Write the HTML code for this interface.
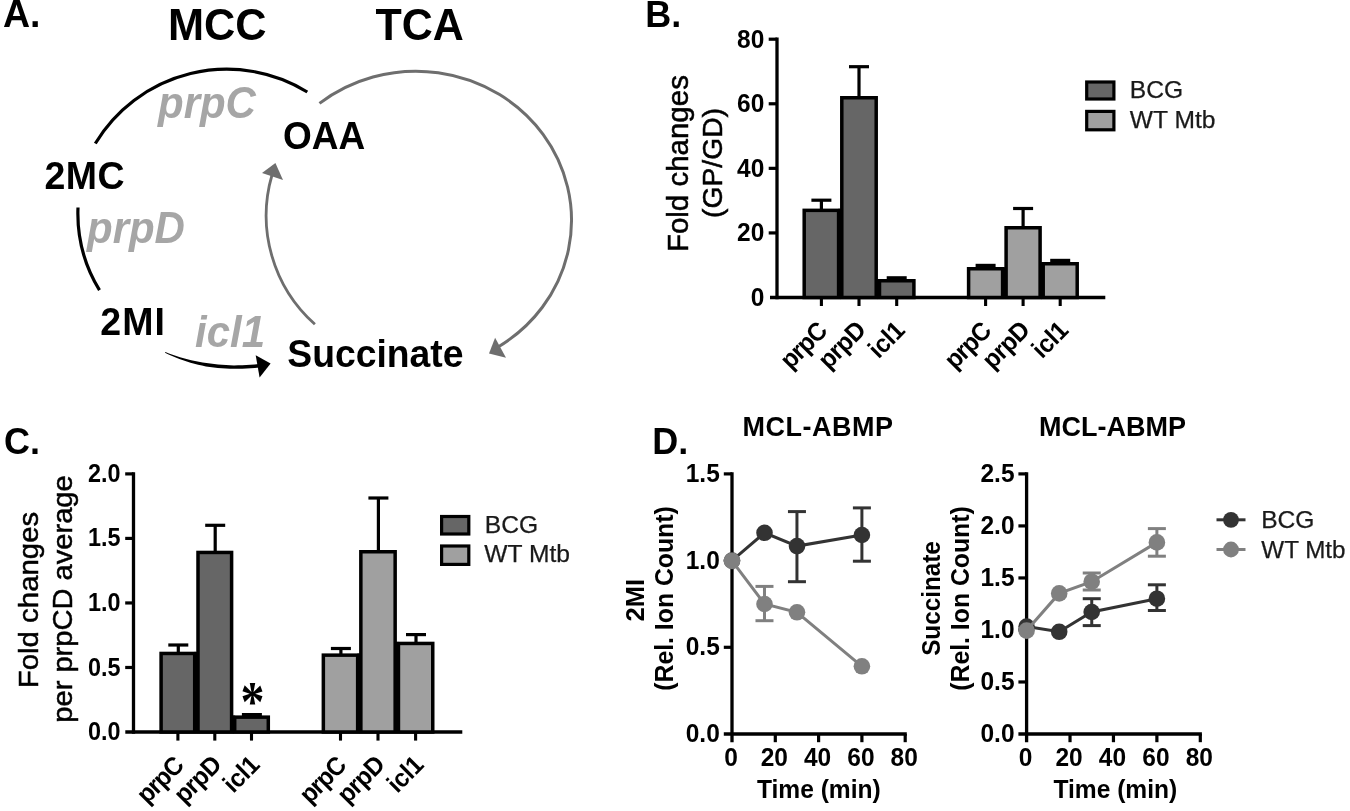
<!DOCTYPE html>
<html lang="en">
<head>
<meta charset="utf-8">
<title>MCC and TCA cycle figure</title>
<style>
html,body{margin:0;padding:0;background:#fff;}
body{width:1350px;height:811px;overflow:hidden;}
svg{display:block;}
svg text{font-family:"Liberation Sans",sans-serif;}
</style>
</head>
<body>
<svg width="1350" height="811" viewBox="0 0 1350 811">
<rect x="0" y="0" width="1350" height="811" fill="#ffffff"/>
<text transform="translate(3 27) scale(1 1.04)" font-size="37.5" font-weight="bold" text-anchor="start" fill="#000">A.</text>
<text transform="translate(168 40.1) scale(1 1.04)" font-size="43.3" font-weight="bold" text-anchor="start" fill="#000">MCC</text>
<text transform="translate(375.5 40.1) scale(1 1.04)" font-size="43" font-weight="bold" text-anchor="start" fill="#000">TCA</text>
<text transform="translate(283 148.7) scale(1 1.04)" font-size="37" font-weight="bold" text-anchor="start" fill="#000">OAA</text>
<text transform="translate(44.5 189.1) scale(1 1.04)" font-size="37.5" font-weight="bold" text-anchor="start" fill="#000" letter-spacing="0.5">2MC</text>
<text transform="translate(100.3 334.7) scale(1 1.04)" font-size="37.5" font-weight="bold" text-anchor="start" fill="#000" letter-spacing="1">2MI</text>
<text transform="translate(287.3 366.5) scale(1 1.04)" font-size="37.3" font-weight="bold" text-anchor="start" fill="#000">Succinate</text>
<text transform="translate(158 118.2) scale(1 1.04)" font-size="42" font-weight="bold" text-anchor="start" fill="#a6a6a6" font-style="italic">prpC</text>
<text transform="translate(87 242.8) scale(1 1.04)" font-size="42" font-weight="bold" text-anchor="start" fill="#a6a6a6" font-style="italic">prpD</text>
<text transform="translate(195 347.3) scale(1 1.04)" font-size="42" font-weight="bold" text-anchor="start" fill="#a6a6a6" font-style="italic">icl1</text>
<path d="M95.3 143.5 A153.5 153.5 0 0 1 307.3 92.0" fill="none" stroke="#000" stroke-width="3.2"/>
<path d="M78.0 207.5 A147.1 147.1 0 0 0 99.5 290.2" fill="none" stroke="#000" stroke-width="3.2"/>
<path d="M165.0 352.8 L168.6 354.5 L172.1 356.1 L175.7 357.5 L179.4 359.0 L183.1 360.3 L186.8 361.5 L190.5 362.7 L194.3 363.8 L198.1 364.7 L202.0 365.6 L205.9 366.4 L209.8 367.0 L213.8 367.6 L217.8 368.0 L221.8 368.3 L225.8 368.6 L229.9 368.8 L234.0 368.8 L238.1 368.8 L242.3 368.8 L246.5 368.6 L250.7 368.3 L254.9 368.0 L259.2 367.5 L258.8 364.1 L254.6 364.5 L250.4 364.8 L246.3 365.1 L242.2 365.3 L238.1 365.3 L234.0 365.4 L230.0 365.3 L226.0 365.1 L222.0 364.8 L218.1 364.5 L214.2 364.1 L210.3 363.6 L206.4 363.0 L202.6 362.4 L198.8 361.7 L195.0 361.0 L191.2 360.2 L187.4 359.3 L183.7 358.3 L180.0 357.2 L176.3 356.0 L172.6 354.8 L169.0 353.4 L165.4 352.0 Z" fill="#000"/>
<path d="M270.6 363.6 L255.7 355.2 L259.6 377.6 Z" fill="#000"/>
<path d="M319.5 103.4 A155.5 149.1 0 1 1 498.5 346.7" fill="none" stroke="#6e6e6e" stroke-width="3"/>
<path d="M489 353.6 L495.1 337.8 L506 357.8 Z" fill="#6e6e6e"/>
<path d="M314.9 324.3 A145.5 145.5 0 0 1 272.0 175.0" fill="none" stroke="#6e6e6e" stroke-width="2.8"/>
<path d="M275.4 163 L262 173 L283 180 Z" fill="#6e6e6e"/>
<text transform="translate(645.2 27) scale(1 1.04)" font-size="36" font-weight="bold" text-anchor="start" fill="#000">B.</text>
<line x1="777.00" y1="37.55" x2="777.00" y2="299.15" stroke="#000" stroke-width="3.3" stroke-linecap="butt"/>
<line x1="770.00" y1="297.50" x2="1105.30" y2="297.50" stroke="#000" stroke-width="3.5" stroke-linecap="butt"/>
<text transform="translate(764.3 305.9) scale(1 1.04)" font-size="24.5" font-weight="bold" text-anchor="end" fill="#000">0</text>
<line x1="768.70" y1="232.93" x2="777.00" y2="232.93" stroke="#000" stroke-width="3.2" stroke-linecap="butt"/>
<text transform="translate(764.3 241.3) scale(1 1.04)" font-size="24.5" font-weight="bold" text-anchor="end" fill="#000">20</text>
<line x1="768.70" y1="168.35" x2="777.00" y2="168.35" stroke="#000" stroke-width="3.2" stroke-linecap="butt"/>
<text transform="translate(764.3 176.8) scale(1 1.04)" font-size="24.5" font-weight="bold" text-anchor="end" fill="#000">40</text>
<line x1="768.70" y1="103.78" x2="777.00" y2="103.78" stroke="#000" stroke-width="3.2" stroke-linecap="butt"/>
<text transform="translate(764.3 112.2) scale(1 1.04)" font-size="24.5" font-weight="bold" text-anchor="end" fill="#000">60</text>
<line x1="768.70" y1="39.20" x2="777.00" y2="39.20" stroke="#000" stroke-width="3.2" stroke-linecap="butt"/>
<text transform="translate(764.3 47.6) scale(1 1.04)" font-size="24.5" font-weight="bold" text-anchor="end" fill="#000">80</text>
<line x1="821.40" y1="200.20" x2="821.40" y2="209.60" stroke="#000" stroke-width="3.2" stroke-linecap="butt"/>
<line x1="811.40" y1="200.20" x2="831.40" y2="200.20" stroke="#000" stroke-width="3.2" stroke-linecap="butt"/>
<line x1="859.00" y1="66.70" x2="859.00" y2="97.00" stroke="#000" stroke-width="3.2" stroke-linecap="butt"/>
<line x1="849.00" y1="66.70" x2="869.00" y2="66.70" stroke="#000" stroke-width="3.2" stroke-linecap="butt"/>
<line x1="896.70" y1="277.80" x2="896.70" y2="280.00" stroke="#000" stroke-width="3.2" stroke-linecap="butt"/>
<line x1="886.70" y1="277.80" x2="906.70" y2="277.80" stroke="#000" stroke-width="3.2" stroke-linecap="butt"/>
<line x1="985.60" y1="265.40" x2="985.60" y2="268.00" stroke="#000" stroke-width="3.2" stroke-linecap="butt"/>
<line x1="975.60" y1="265.40" x2="995.60" y2="265.40" stroke="#000" stroke-width="3.2" stroke-linecap="butt"/>
<line x1="1023.10" y1="208.50" x2="1023.10" y2="227.00" stroke="#000" stroke-width="3.2" stroke-linecap="butt"/>
<line x1="1013.10" y1="208.50" x2="1033.10" y2="208.50" stroke="#000" stroke-width="3.2" stroke-linecap="butt"/>
<line x1="1060.20" y1="260.40" x2="1060.20" y2="263.00" stroke="#000" stroke-width="3.2" stroke-linecap="butt"/>
<line x1="1050.20" y1="260.40" x2="1070.20" y2="260.40" stroke="#000" stroke-width="3.2" stroke-linecap="butt"/>
<rect x="804.20" y="210.35" width="34.40" height="87.15" fill="#666666" stroke="#000" stroke-width="3.5"/>
<rect x="841.80" y="97.75" width="34.40" height="199.75" fill="#666666" stroke="#000" stroke-width="3.5"/>
<rect x="879.50" y="280.75" width="34.40" height="16.75" fill="#666666" stroke="#000" stroke-width="3.5"/>
<rect x="968.60" y="268.75" width="34.00" height="28.75" fill="#a0a0a0" stroke="#000" stroke-width="3.5"/>
<rect x="1006.10" y="227.75" width="34.00" height="69.75" fill="#a0a0a0" stroke="#000" stroke-width="3.5"/>
<rect x="1043.20" y="263.75" width="34.00" height="33.75" fill="#a0a0a0" stroke="#000" stroke-width="3.5"/>
<line x1="840.20" y1="208.80" x2="840.20" y2="297.50" stroke="#000" stroke-width="4" stroke-linecap="butt"/>
<line x1="877.85" y1="279.20" x2="877.85" y2="297.50" stroke="#000" stroke-width="4" stroke-linecap="butt"/>
<line x1="1004.35" y1="267.20" x2="1004.35" y2="297.50" stroke="#000" stroke-width="4" stroke-linecap="butt"/>
<line x1="1041.65" y1="262.20" x2="1041.65" y2="297.50" stroke="#000" stroke-width="4" stroke-linecap="butt"/>
<line x1="821.40" y1="297.50" x2="821.40" y2="306.00" stroke="#000" stroke-width="3.1" stroke-linecap="butt"/>
<line x1="859.00" y1="297.50" x2="859.00" y2="306.00" stroke="#000" stroke-width="3.1" stroke-linecap="butt"/>
<line x1="896.70" y1="297.50" x2="896.70" y2="306.00" stroke="#000" stroke-width="3.1" stroke-linecap="butt"/>
<line x1="985.60" y1="297.50" x2="985.60" y2="306.00" stroke="#000" stroke-width="3.1" stroke-linecap="butt"/>
<line x1="1023.10" y1="297.50" x2="1023.10" y2="306.00" stroke="#000" stroke-width="3.1" stroke-linecap="butt"/>
<line x1="1060.20" y1="297.50" x2="1060.20" y2="306.00" stroke="#000" stroke-width="3.1" stroke-linecap="butt"/>
<text transform="translate(828.2 332.7) rotate(-45) scale(1 1.04)" font-size="24.5" font-weight="bold" text-anchor="end" fill="#000" letter-spacing="-1.0">prpC</text>
<text transform="translate(866.9 331.8) rotate(-45) scale(1 1.04)" font-size="24.5" font-weight="bold" text-anchor="end" fill="#000" letter-spacing="-0.7">prpD</text>
<text transform="translate(906.0 331.9) rotate(-45) scale(1 1.04)" font-size="24.5" font-weight="bold" text-anchor="end" fill="#000" letter-spacing="-0.45">icl1</text>
<text transform="translate(992.4 332.7) rotate(-45) scale(1 1.04)" font-size="24.5" font-weight="bold" text-anchor="end" fill="#000" letter-spacing="-1.0">prpC</text>
<text transform="translate(1031.0 331.8) rotate(-45) scale(1 1.04)" font-size="24.5" font-weight="bold" text-anchor="end" fill="#000" letter-spacing="-0.7">prpD</text>
<text transform="translate(1069.5 331.9) rotate(-45) scale(1 1.04)" font-size="24.5" font-weight="bold" text-anchor="end" fill="#000" letter-spacing="-0.45">icl1</text>
<text transform="translate(688 163.6) rotate(-90) scale(1 0.97)" font-size="29.5" font-weight="normal" text-anchor="middle" fill="#000" stroke="#000" stroke-width="0.5">Fold changes</text>
<text transform="translate(722.2 163) rotate(-90) scale(1 0.97)" font-size="28.3" font-weight="normal" text-anchor="middle" fill="#000" stroke="#000" stroke-width="0.5">(GP/GD)</text>
<rect x="1086.7" y="82" width="27.2" height="17" fill="#666666" stroke="#000" stroke-width="3.2"/>
<rect x="1086.7" y="111.4" width="27.2" height="18.4" fill="#a0a0a0" stroke="#000" stroke-width="3.2"/>
<text transform="translate(1129.8 98) scale(1 1.0)" font-size="24.6" font-weight="normal" text-anchor="start" fill="#1a1a1a" stroke="#1a1a1a" stroke-width="0.25">BCG</text>
<text transform="translate(1129.8 127.6) scale(1 1.0)" font-size="24.6" font-weight="normal" text-anchor="start" fill="#1a1a1a" stroke="#1a1a1a" stroke-width="0.25">WT Mtb</text>
<text transform="translate(4 453.5) scale(1 1.04)" font-size="36" font-weight="bold" text-anchor="start" fill="#000">C.</text>
<line x1="133.50" y1="472.25" x2="133.50" y2="733.65" stroke="#000" stroke-width="3.3" stroke-linecap="butt"/>
<line x1="125.30" y1="732.00" x2="462.30" y2="732.00" stroke="#000" stroke-width="3.5" stroke-linecap="butt"/>
<text transform="translate(120.6 740.0) scale(0.955 1.04)" font-size="24.5" font-weight="bold" text-anchor="end" fill="#000">0.0</text>
<line x1="125.20" y1="667.48" x2="133.50" y2="667.48" stroke="#000" stroke-width="3.2" stroke-linecap="butt"/>
<text transform="translate(120.6 675.5) scale(0.955 1.04)" font-size="24.5" font-weight="bold" text-anchor="end" fill="#000">0.5</text>
<line x1="125.20" y1="602.95" x2="133.50" y2="602.95" stroke="#000" stroke-width="3.2" stroke-linecap="butt"/>
<text transform="translate(120.6 611.0) scale(0.955 1.04)" font-size="24.5" font-weight="bold" text-anchor="end" fill="#000">1.0</text>
<line x1="125.20" y1="538.42" x2="133.50" y2="538.42" stroke="#000" stroke-width="3.2" stroke-linecap="butt"/>
<text transform="translate(120.6 546.4) scale(0.955 1.04)" font-size="24.5" font-weight="bold" text-anchor="end" fill="#000">1.5</text>
<line x1="125.20" y1="473.90" x2="133.50" y2="473.90" stroke="#000" stroke-width="3.2" stroke-linecap="butt"/>
<text transform="translate(120.6 481.9) scale(0.955 1.04)" font-size="24.5" font-weight="bold" text-anchor="end" fill="#000">2.0</text>
<line x1="178.30" y1="645.00" x2="178.30" y2="652.70" stroke="#000" stroke-width="3.2" stroke-linecap="butt"/>
<line x1="168.30" y1="645.00" x2="188.30" y2="645.00" stroke="#000" stroke-width="3.2" stroke-linecap="butt"/>
<line x1="215.20" y1="525.30" x2="215.20" y2="551.70" stroke="#000" stroke-width="3.2" stroke-linecap="butt"/>
<line x1="205.20" y1="525.30" x2="225.20" y2="525.30" stroke="#000" stroke-width="3.2" stroke-linecap="butt"/>
<line x1="251.90" y1="714.60" x2="251.90" y2="716.40" stroke="#000" stroke-width="3.2" stroke-linecap="butt"/>
<line x1="241.90" y1="714.60" x2="261.90" y2="714.60" stroke="#000" stroke-width="3.2" stroke-linecap="butt"/>
<line x1="340.90" y1="648.50" x2="340.90" y2="654.40" stroke="#000" stroke-width="3.2" stroke-linecap="butt"/>
<line x1="330.90" y1="648.50" x2="350.90" y2="648.50" stroke="#000" stroke-width="3.2" stroke-linecap="butt"/>
<line x1="378.40" y1="498.00" x2="378.40" y2="551.00" stroke="#000" stroke-width="3.2" stroke-linecap="butt"/>
<line x1="368.40" y1="498.00" x2="388.40" y2="498.00" stroke="#000" stroke-width="3.2" stroke-linecap="butt"/>
<line x1="416.00" y1="634.60" x2="416.00" y2="642.70" stroke="#000" stroke-width="3.2" stroke-linecap="butt"/>
<line x1="406.00" y1="634.60" x2="426.00" y2="634.60" stroke="#000" stroke-width="3.2" stroke-linecap="butt"/>
<rect x="161.10" y="653.45" width="33.60" height="78.55" fill="#666666" stroke="#000" stroke-width="3.5"/>
<rect x="198.00" y="552.45" width="33.60" height="179.55" fill="#666666" stroke="#000" stroke-width="3.5"/>
<rect x="234.70" y="717.15" width="33.60" height="14.85" fill="#666666" stroke="#000" stroke-width="3.5"/>
<rect x="323.35" y="655.15" width="34.30" height="76.85" fill="#a0a0a0" stroke="#000" stroke-width="3.5"/>
<rect x="360.85" y="551.75" width="34.30" height="180.25" fill="#a0a0a0" stroke="#000" stroke-width="3.5"/>
<rect x="398.45" y="643.45" width="34.30" height="88.55" fill="#a0a0a0" stroke="#000" stroke-width="3.5"/>
<line x1="196.35" y1="651.90" x2="196.35" y2="732.00" stroke="#000" stroke-width="4" stroke-linecap="butt"/>
<line x1="233.15" y1="715.60" x2="233.15" y2="732.00" stroke="#000" stroke-width="4" stroke-linecap="butt"/>
<line x1="359.25" y1="653.60" x2="359.25" y2="732.00" stroke="#000" stroke-width="4" stroke-linecap="butt"/>
<line x1="396.80" y1="641.90" x2="396.80" y2="732.00" stroke="#000" stroke-width="4" stroke-linecap="butt"/>
<line x1="177.90" y1="732.00" x2="177.90" y2="740.60" stroke="#000" stroke-width="3.1" stroke-linecap="butt"/>
<line x1="214.80" y1="732.00" x2="214.80" y2="740.60" stroke="#000" stroke-width="3.1" stroke-linecap="butt"/>
<line x1="251.50" y1="732.00" x2="251.50" y2="740.60" stroke="#000" stroke-width="3.1" stroke-linecap="butt"/>
<line x1="340.50" y1="732.00" x2="340.50" y2="740.60" stroke="#000" stroke-width="3.1" stroke-linecap="butt"/>
<line x1="378.00" y1="732.00" x2="378.00" y2="740.60" stroke="#000" stroke-width="3.1" stroke-linecap="butt"/>
<line x1="415.60" y1="732.00" x2="415.60" y2="740.60" stroke="#000" stroke-width="3.1" stroke-linecap="butt"/>
<text transform="translate(184.7 767.2) rotate(-45) scale(1 1.04)" font-size="24.5" font-weight="bold" text-anchor="end" fill="#000" letter-spacing="-1.0">prpC</text>
<text transform="translate(222.7 766.3) rotate(-45) scale(1 1.04)" font-size="24.5" font-weight="bold" text-anchor="end" fill="#000" letter-spacing="-0.7">prpD</text>
<text transform="translate(260.8 766.4) rotate(-45) scale(1 1.04)" font-size="24.5" font-weight="bold" text-anchor="end" fill="#000" letter-spacing="-0.45">icl1</text>
<text transform="translate(347.3 767.2) rotate(-45) scale(1 1.04)" font-size="24.5" font-weight="bold" text-anchor="end" fill="#000" letter-spacing="-1.0">prpC</text>
<text transform="translate(385.9 766.3) rotate(-45) scale(1 1.04)" font-size="24.5" font-weight="bold" text-anchor="end" fill="#000" letter-spacing="-0.7">prpD</text>
<text transform="translate(424.9 766.4) rotate(-45) scale(1 1.04)" font-size="24.5" font-weight="bold" text-anchor="end" fill="#000" letter-spacing="-0.45">icl1</text>
<text transform="translate(252.6 721.4) scale(1 1.2)" font-size="48" font-weight="bold" text-anchor="middle" fill="#000" style="font-family:'Liberation Serif',serif">*</text>
<text transform="translate(37.5 600) rotate(-90) scale(1 0.97)" font-size="29.4" font-weight="normal" text-anchor="middle" fill="#000" stroke="#000" stroke-width="0.5">Fold changes</text>
<text transform="translate(71.5 599) rotate(-90) scale(1 0.97)" font-size="29.1" font-weight="normal" text-anchor="middle" fill="#000" stroke="#000" stroke-width="0.5">per prpCD average</text>
<rect x="441.6" y="516.5" width="27.2" height="17.5" fill="#666666" stroke="#000" stroke-width="3.2"/>
<rect x="441.6" y="546" width="27.2" height="18.4" fill="#a0a0a0" stroke="#000" stroke-width="3.2"/>
<text transform="translate(484.8 533.2) scale(1 1.0)" font-size="24.6" font-weight="normal" text-anchor="start" fill="#1a1a1a" stroke="#1a1a1a" stroke-width="0.25">BCG</text>
<text transform="translate(484.3 562.2) scale(1 1.0)" font-size="24.6" font-weight="normal" text-anchor="start" fill="#1a1a1a" stroke="#1a1a1a" stroke-width="0.25">WT Mtb</text>
<text transform="translate(652.2 453.5) scale(1 1.04)" font-size="36" font-weight="bold" text-anchor="start" fill="#000">D.</text>
<line x1="732.00" y1="472.25" x2="732.00" y2="742.20" stroke="#000" stroke-width="3.3" stroke-linecap="butt"/>
<line x1="723.80" y1="734.00" x2="906.80" y2="734.00" stroke="#000" stroke-width="3.5" stroke-linecap="butt"/>
<text transform="translate(719.8 742.0) scale(1 1.04)" font-size="24.5" font-weight="bold" text-anchor="end" fill="#000">0.0</text>
<line x1="723.80" y1="647.30" x2="732.00" y2="647.30" stroke="#000" stroke-width="3.2" stroke-linecap="butt"/>
<text transform="translate(719.8 655.3) scale(1 1.04)" font-size="24.5" font-weight="bold" text-anchor="end" fill="#000">0.5</text>
<line x1="723.80" y1="560.60" x2="732.00" y2="560.60" stroke="#000" stroke-width="3.2" stroke-linecap="butt"/>
<text transform="translate(719.8 568.6) scale(1 1.04)" font-size="24.5" font-weight="bold" text-anchor="end" fill="#000">1.0</text>
<line x1="723.80" y1="473.90" x2="732.00" y2="473.90" stroke="#000" stroke-width="3.2" stroke-linecap="butt"/>
<text transform="translate(719.8 481.9) scale(1 1.04)" font-size="24.5" font-weight="bold" text-anchor="end" fill="#000">1.5</text>
<text transform="translate(731.0 766.2) scale(1 1.04)" font-size="24.5" font-weight="bold" text-anchor="middle" fill="#000">0</text>
<line x1="775.30" y1="734.00" x2="775.30" y2="742.20" stroke="#000" stroke-width="3.2" stroke-linecap="butt"/>
<text transform="translate(774.3 766.2) scale(1 1.04)" font-size="24.5" font-weight="bold" text-anchor="middle" fill="#000">20</text>
<line x1="818.60" y1="734.00" x2="818.60" y2="742.20" stroke="#000" stroke-width="3.2" stroke-linecap="butt"/>
<text transform="translate(817.6 766.2) scale(1 1.04)" font-size="24.5" font-weight="bold" text-anchor="middle" fill="#000">40</text>
<line x1="861.90" y1="734.00" x2="861.90" y2="742.20" stroke="#000" stroke-width="3.2" stroke-linecap="butt"/>
<text transform="translate(860.9 766.2) scale(1 1.04)" font-size="24.5" font-weight="bold" text-anchor="middle" fill="#000">60</text>
<line x1="905.20" y1="734.00" x2="905.20" y2="742.20" stroke="#000" stroke-width="3.2" stroke-linecap="butt"/>
<text transform="translate(904.2 766.2) scale(1 1.04)" font-size="24.5" font-weight="bold" text-anchor="middle" fill="#000">80</text>
<polyline points="732.0,560.6 764.5,532.8 797.0,546.1 861.9,535.0" fill="none" stroke="#333333" stroke-width="3"/>
<line x1="796.95" y1="511.60" x2="796.95" y2="581.70" stroke="#333333" stroke-width="3" stroke-linecap="butt"/>
<line x1="787.95" y1="511.60" x2="805.95" y2="511.60" stroke="#333333" stroke-width="3" stroke-linecap="butt"/>
<line x1="787.95" y1="581.70" x2="805.95" y2="581.70" stroke="#333333" stroke-width="3" stroke-linecap="butt"/>
<line x1="861.90" y1="507.90" x2="861.90" y2="561.20" stroke="#333333" stroke-width="3" stroke-linecap="butt"/>
<line x1="852.90" y1="507.90" x2="870.90" y2="507.90" stroke="#333333" stroke-width="3" stroke-linecap="butt"/>
<line x1="852.90" y1="561.20" x2="870.90" y2="561.20" stroke="#333333" stroke-width="3" stroke-linecap="butt"/>
<circle cx="732.0" cy="560.6" r="8.3" fill="#333333"/>
<circle cx="764.5" cy="532.8" r="8.3" fill="#333333"/>
<circle cx="797.0" cy="546.1" r="8.3" fill="#333333"/>
<circle cx="861.9" cy="535.0" r="8.3" fill="#333333"/>
<polyline points="732.0,560.9 764.5,604.0 797.0,612.3 861.9,666.3" fill="none" stroke="#808080" stroke-width="3"/>
<line x1="764.48" y1="586.40" x2="764.48" y2="620.70" stroke="#808080" stroke-width="3" stroke-linecap="butt"/>
<line x1="755.48" y1="586.40" x2="773.48" y2="586.40" stroke="#808080" stroke-width="3" stroke-linecap="butt"/>
<line x1="755.48" y1="620.70" x2="773.48" y2="620.70" stroke="#808080" stroke-width="3" stroke-linecap="butt"/>
<circle cx="732.0" cy="560.9" r="8.3" fill="#808080"/>
<circle cx="764.5" cy="604.0" r="8.3" fill="#808080"/>
<circle cx="797.0" cy="612.3" r="8.3" fill="#808080"/>
<circle cx="861.9" cy="666.3" r="8.3" fill="#808080"/>
<text transform="translate(818 435.8) scale(1 1.04)" font-size="27" font-weight="bold" text-anchor="middle" fill="#000" letter-spacing="0.5">MCL-ABMP</text>
<text transform="translate(818.8 798.2) scale(1 1.04)" font-size="24.6" font-weight="bold" text-anchor="middle" fill="#000">Time (min)</text>
<text transform="translate(643.5 600.2) rotate(-90) scale(1 1.04)" font-size="25.5" font-weight="bold" text-anchor="middle" fill="#000">2MI</text>
<text transform="translate(673.3 598.5) rotate(-90) scale(1 1.04)" font-size="24.8" font-weight="bold" text-anchor="middle" fill="#000">(Rel. Ion Count)</text>
<line x1="1026.60" y1="472.25" x2="1026.60" y2="742.20" stroke="#000" stroke-width="3.3" stroke-linecap="butt"/>
<line x1="1018.40" y1="734.00" x2="1201.90" y2="734.00" stroke="#000" stroke-width="3.5" stroke-linecap="butt"/>
<text transform="translate(1014.5 742.0) scale(1 1.04)" font-size="24.5" font-weight="bold" text-anchor="end" fill="#000">0.0</text>
<line x1="1018.40" y1="681.98" x2="1026.60" y2="681.98" stroke="#000" stroke-width="3.2" stroke-linecap="butt"/>
<text transform="translate(1014.5 690.0) scale(1 1.04)" font-size="24.5" font-weight="bold" text-anchor="end" fill="#000">0.5</text>
<line x1="1018.40" y1="629.96" x2="1026.60" y2="629.96" stroke="#000" stroke-width="3.2" stroke-linecap="butt"/>
<text transform="translate(1014.5 638.0) scale(1 1.04)" font-size="24.5" font-weight="bold" text-anchor="end" fill="#000">1.0</text>
<line x1="1018.40" y1="577.94" x2="1026.60" y2="577.94" stroke="#000" stroke-width="3.2" stroke-linecap="butt"/>
<text transform="translate(1014.5 585.9) scale(1 1.04)" font-size="24.5" font-weight="bold" text-anchor="end" fill="#000">1.5</text>
<line x1="1018.40" y1="525.92" x2="1026.60" y2="525.92" stroke="#000" stroke-width="3.2" stroke-linecap="butt"/>
<text transform="translate(1014.5 533.9) scale(1 1.04)" font-size="24.5" font-weight="bold" text-anchor="end" fill="#000">2.0</text>
<line x1="1018.40" y1="473.90" x2="1026.60" y2="473.90" stroke="#000" stroke-width="3.2" stroke-linecap="butt"/>
<text transform="translate(1014.5 481.9) scale(1 1.04)" font-size="24.5" font-weight="bold" text-anchor="end" fill="#000">2.5</text>
<text transform="translate(1025.6 766.2) scale(1 1.04)" font-size="24.5" font-weight="bold" text-anchor="middle" fill="#000">0</text>
<line x1="1070.02" y1="734.00" x2="1070.02" y2="742.20" stroke="#000" stroke-width="3.2" stroke-linecap="butt"/>
<text transform="translate(1069.0 766.2) scale(1 1.04)" font-size="24.5" font-weight="bold" text-anchor="middle" fill="#000">20</text>
<line x1="1113.45" y1="734.00" x2="1113.45" y2="742.20" stroke="#000" stroke-width="3.2" stroke-linecap="butt"/>
<text transform="translate(1112.4 766.2) scale(1 1.04)" font-size="24.5" font-weight="bold" text-anchor="middle" fill="#000">40</text>
<line x1="1156.88" y1="734.00" x2="1156.88" y2="742.20" stroke="#000" stroke-width="3.2" stroke-linecap="butt"/>
<text transform="translate(1155.9 766.2) scale(1 1.04)" font-size="24.5" font-weight="bold" text-anchor="middle" fill="#000">60</text>
<line x1="1200.30" y1="734.00" x2="1200.30" y2="742.20" stroke="#000" stroke-width="3.2" stroke-linecap="butt"/>
<text transform="translate(1199.3 766.2) scale(1 1.04)" font-size="24.5" font-weight="bold" text-anchor="middle" fill="#000">80</text>
<polyline points="1026.6,626.6 1059.2,631.8 1091.7,612.0 1156.9,598.7" fill="none" stroke="#333333" stroke-width="3"/>
<line x1="1091.74" y1="598.70" x2="1091.74" y2="625.60" stroke="#333333" stroke-width="3" stroke-linecap="butt"/>
<line x1="1082.74" y1="598.70" x2="1100.74" y2="598.70" stroke="#333333" stroke-width="3" stroke-linecap="butt"/>
<line x1="1082.74" y1="625.60" x2="1100.74" y2="625.60" stroke="#333333" stroke-width="3" stroke-linecap="butt"/>
<line x1="1156.88" y1="584.80" x2="1156.88" y2="610.50" stroke="#333333" stroke-width="3" stroke-linecap="butt"/>
<line x1="1147.88" y1="584.80" x2="1165.88" y2="584.80" stroke="#333333" stroke-width="3" stroke-linecap="butt"/>
<line x1="1147.88" y1="610.50" x2="1165.88" y2="610.50" stroke="#333333" stroke-width="3" stroke-linecap="butt"/>
<circle cx="1026.6" cy="626.6" r="8.3" fill="#333333"/>
<circle cx="1059.2" cy="631.8" r="8.3" fill="#333333"/>
<circle cx="1091.7" cy="612.0" r="8.3" fill="#333333"/>
<circle cx="1156.9" cy="598.7" r="8.3" fill="#333333"/>
<polyline points="1026.6,630.6 1059.2,593.4 1091.7,581.7 1156.9,542.4" fill="none" stroke="#808080" stroke-width="3"/>
<line x1="1091.74" y1="573.00" x2="1091.74" y2="590.00" stroke="#808080" stroke-width="3" stroke-linecap="butt"/>
<line x1="1082.74" y1="573.00" x2="1100.74" y2="573.00" stroke="#808080" stroke-width="3" stroke-linecap="butt"/>
<line x1="1082.74" y1="590.00" x2="1100.74" y2="590.00" stroke="#808080" stroke-width="3" stroke-linecap="butt"/>
<line x1="1156.88" y1="528.60" x2="1156.88" y2="556.20" stroke="#808080" stroke-width="3" stroke-linecap="butt"/>
<line x1="1147.88" y1="528.60" x2="1165.88" y2="528.60" stroke="#808080" stroke-width="3" stroke-linecap="butt"/>
<line x1="1147.88" y1="556.20" x2="1165.88" y2="556.20" stroke="#808080" stroke-width="3" stroke-linecap="butt"/>
<circle cx="1026.6" cy="630.6" r="8.3" fill="#808080"/>
<circle cx="1059.2" cy="593.4" r="8.3" fill="#808080"/>
<circle cx="1091.7" cy="581.7" r="8.3" fill="#808080"/>
<circle cx="1156.9" cy="542.4" r="8.3" fill="#808080"/>
<text transform="translate(1112.5 435.8) scale(1 1.04)" font-size="27" font-weight="bold" text-anchor="middle" fill="#000">MCL-ABMP</text>
<text transform="translate(1115.3 798.2) scale(1 1.04)" font-size="24.6" font-weight="bold" text-anchor="middle" fill="#000">Time (min)</text>
<text transform="translate(940.4 598.5) rotate(-90) scale(1 1.04)" font-size="24.3" font-weight="bold" text-anchor="middle" fill="#000">Succinate</text>
<text transform="translate(968.7 598.5) rotate(-90) scale(1 1.04)" font-size="24.8" font-weight="bold" text-anchor="middle" fill="#000">(Rel. Ion Count)</text>
<line x1="1216.50" y1="519.80" x2="1245.50" y2="519.80" stroke="#333333" stroke-width="3" stroke-linecap="butt"/>
<circle cx="1231" cy="519.8" r="7.9" fill="#333333"/>
<line x1="1216.50" y1="549.50" x2="1245.50" y2="549.50" stroke="#808080" stroke-width="3" stroke-linecap="butt"/>
<circle cx="1231" cy="549.5" r="7.9" fill="#808080"/>
<text transform="translate(1261.2 528.2) scale(1 1.0)" font-size="24.6" font-weight="normal" text-anchor="start" fill="#1a1a1a" stroke="#1a1a1a" stroke-width="0.25">BCG</text>
<text transform="translate(1261.3 557.5) scale(1 1.0)" font-size="24.2" font-weight="normal" text-anchor="start" fill="#1a1a1a" stroke="#1a1a1a" stroke-width="0.25">WT Mtb</text>
</svg>
</body>
</html>
